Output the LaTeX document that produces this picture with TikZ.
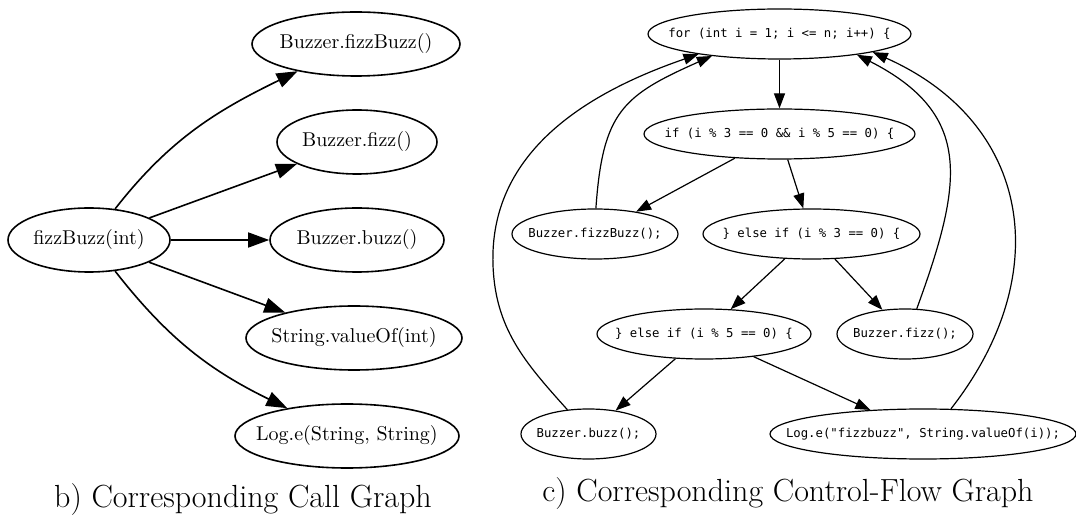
\documentclass[tikz,border=0pt]{standalone}
\usepackage{fontspec}
\setmonofont{DejaVu Sans Mono}
\usepackage{tikz}
\usetikzlibrary{arrows.meta, shapes.geometric}

\begin{document}
\begin{tikzpicture}[
    x=0.5pt, y=-0.5pt,
    % text boxed to zero width so that the ellipse size is set by minimum width
    tight/.style={execute at begin node={\hbox to 0pt\bgroup\hss},
                  execute at end node={\hss\egroup}},
    fn/.style={draw, ellipse, tight, line width=0.8pt, inner sep=0pt, minimum height=32pt},
    stmt/.style={draw, ellipse, tight, line width=0.6pt, inner sep=0pt, minimum height=25pt,
                 font=\fontsize{6.15}{7}\ttfamily},
    call/.style={-{Triangle[length=10.5pt, width=7.5pt]}, line width=0.8pt},
    flow/.style={-{Triangle[length=7.5pt, width=5.5pt]}, line width=0.6pt},
    caption/.style={font=\fontsize{16}{19}\selectfont}
]
\useasboundingbox (0,0) rectangle (1076,523);

% Call graph
\node[fn, minimum width=81pt]  (fb)   at (89,240)  {fizzBuzz(int)};
\node[fn, minimum width=104pt] (bfb)  at (356,44)  {Buzzer.fizzBuzz()};
\node[fn, minimum width=80pt]  (bf)   at (357,142) {Buzzer.fizz()};
\node[fn, minimum width=87pt]  (bb)   at (357,240) {Buzzer.buzz()};
\node[fn, minimum width=108pt] (val)  at (354,338) {String.valueOf(int)};
\node[fn, minimum width=112pt] (loge) at (347,436) {Log.e(String, String)};

\draw[call] (fb.50) to[out=52, in=206] (bfb.205);
\draw[call] (fb) -- (bf);
\draw[call] (fb) -- (bb);
\draw[call] (fb) -- (val);
\draw[call] (fb.-50) to[out=-52, in=154] (loge.155);

\node[caption] (capb) at (243,500) {b) Corresponding Call Graph};

% Control-flow graph
\node[stmt, minimum width=131.5pt] (loop)    at (779.5,34)  {for (int i = 1; i <= n; i++) \{};
\node[stmt, minimum width=135.5pt] (ifboth)  at (779.5,134) {if (i \% 3 == 0 \&\& i \% 5 == 0) \{};
\node[stmt, minimum width=83pt]    (sfb)     at (595,234)   {Buzzer.fizzBuzz();};
\node[stmt, minimum width=108.5pt] (ifthree) at (811.5,234) {\} else if (i \% 3 == 0) \{};
\node[stmt, minimum width=107pt]   (iffive)  at (704,334)   {\} else if (i \% 5 == 0) \{};
\node[stmt, minimum width=68pt]    (sf)      at (905,334)   {Buzzer.fizz();};
\node[stmt, minimum width=67.5pt]  (sb)      at (588.5,434) {Buzzer.buzz();};
\node[stmt, minimum width=153pt]   (slog)    at (923,434)   {Log.e("fizzbuzz", String.valueOf(i));};

\draw[flow] (loop) -- (ifboth);
\draw[flow] (ifboth) -- (sfb);
\draw[flow] (ifboth) -- (ifthree);
\draw[flow] (ifthree) -- (iffive);
\draw[flow] (ifthree) -- (sf);
\draw[flow] (iffive) -- (sb);
\draw[flow] (iffive) -- (slog);

% back edges to the loop head
\coordinate (bendl) at (493,265);
\draw[flow] (sfb.88) to[out=86, in=204, looseness=1.3] (loop.198);
\draw[flow] (sb.131) to[out=132, in=-88] (bendl) to[out=92, in=199] (loop.194);
\draw[flow] (sf.65) to[out=70, in=-27, looseness=1.3] (loop.345);
\draw[flow] (slog.42) to[out=52, in=-24, looseness=1.21] (loop.349);

\node[caption] (capc) at (788,494) {c) Corresponding Control-Flow Graph};

\end{tikzpicture}
\end{document}
